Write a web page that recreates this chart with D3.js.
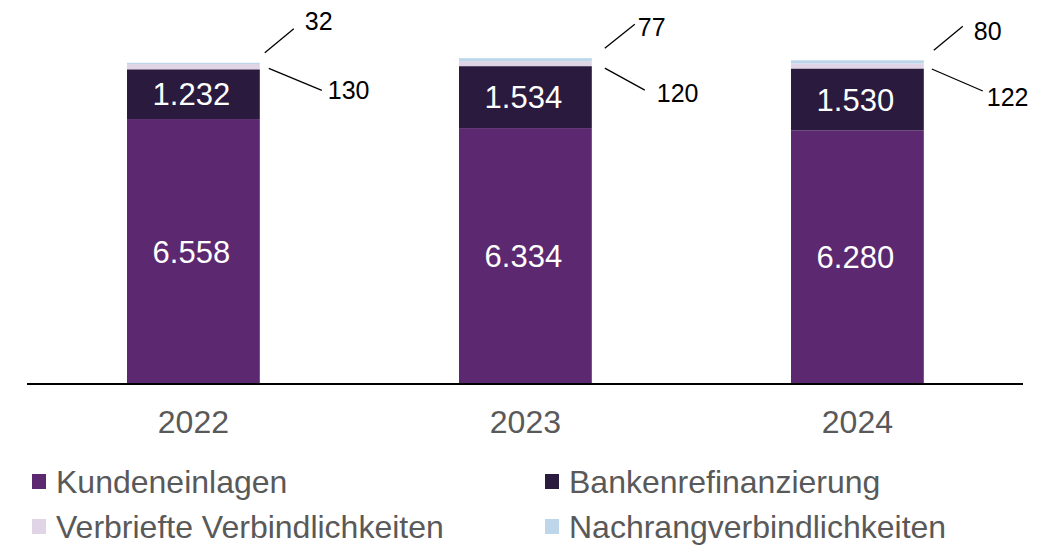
<!DOCTYPE html>
<html>
<head>
<meta charset="utf-8">
<script src="https://cdn.jsdelivr.net/npm/d3@7"></script>
<style>
  body { margin: 0; background: #fff; }
  svg { font-family: "Liberation Sans", Arial, sans-serif; }
</style>
</head>
<body>
<svg id="drawing_region"></svg>
<script>
const years = ["2022", "2023", "2024"];
const seriesNames = ["Kundeneinlagen", "Bankenrefinanzierung", "Verbriefte Verbindlichkeiten", "Nachrangverbindlichkeiten"];
const kundeneinlagen = [6558, 6334, 6280];
const bankenrefinanzierung = [1232, 1534, 1530];
const verbriefte = [130, 120, 122];
const nachrang = [32, 77, 80];
const colors = ["#5c2870", "#2a1a3e", "#e0d5e6", "#bdd6ea"];

// callout leader offsets from the bar's right edge (layout only)
// [x1, x2, textX, textDy, y1Dy, y2Dy]
const calloutLayout = [
    { n: [5, 34, 45, -33, -10, -34], v: [9, 62, 68, 30, -1, 21] },
    { n: [13, 43, 46, -22, -10, -34], v: [13, 53, 65, 36, 2, 24] },
    { n: [10, 39, 50, -20, -10, -34], v: [8, 59, 63, 37.5, 0.5, 22.5] }
];

const width = 1053, height = 549;
const svg = d3.select("#drawing_region").attr("width", width).attr("height", height);

const table = years.map((y, i) => ({
    year: y,
    Kundeneinlagen: kundeneinlagen[i],
    Bankenrefinanzierung: bankenrefinanzierung[i],
    "Verbriefte Verbindlichkeiten": verbriefte[i],
    Nachrangverbindlichkeiten: nachrang[i]
}));

const stack = d3.stack().keys(seriesNames)(table);

const xscale = d3.scaleBand().domain(years).range([27.4, 1023.4]).paddingInner(0.6).paddingOuter(0.3);
const yscale = d3.scaleLinear().domain([0, 9500]).range([384, 0.2]);

const color = d3.scaleOrdinal().domain(seriesNames).range(colors);

svg.append("g").selectAll("g")
    .data(stack)
    .join("g")
    .attr("fill", d => color(d.key))
    .selectAll("rect")
    .data(d => d)
    .join("rect")
    .attr("x", d => xscale(d.data.year))
    .attr("width", xscale.bandwidth())
    .attr("y", d => yscale(d[1]))
    .attr("height", d => yscale(d[0]) - yscale(d[1]));

// inside labels for the two big series
const fmt = v => d3.format(",")(v).replace(/,/g, ".");
[0, 1].forEach(s => {
    svg.append("g").selectAll("text")
        .data(stack[s])
        .join("text")
        .attr("x", d => xscale(d.data.year) + xscale.bandwidth() / 2 - 2)
        .attr("y", d => (yscale(d[0]) + yscale(d[1])) / 2)
        .attr("dy", "0.36em")
        .attr("text-anchor", "middle")
        .attr("fill", "#fff")
        .attr("font-size", 31)
        .text(d => fmt(d[1] - d[0]));
});

// outside callouts for the small series
const callouts = svg.append("g");
years.forEach((y, i) => {
    const right = xscale(y) + xscale.bandwidth();
    const L = calloutLayout[i];
    // Verbriefte: leader starts at top of Bankenrefinanzierung
    const yv = yscale(stack[1][i][1]);
    callouts.append("line")
        .attr("x1", right + L.v[0]).attr("y1", yv + L.v[4])
        .attr("x2", right + L.v[1]).attr("y2", yv + L.v[5])
        .attr("stroke", "#000").attr("stroke-width", 1.3);
    callouts.append("text")
        .attr("x", right + L.v[2]).attr("y", yv + L.v[3])
        .attr("font-size", 25).attr("fill", "#000")
        .text(fmt(verbriefte[i]));
    // Nachrang: leader starts above the bar top
    const yn = yscale(stack[3][i][1]);
    callouts.append("line")
        .attr("x1", right + L.n[0]).attr("y1", yn + L.n[4])
        .attr("x2", right + L.n[1]).attr("y2", yn + L.n[5])
        .attr("stroke", "#000").attr("stroke-width", 1.3);
    callouts.append("text")
        .attr("x", right + L.n[2]).attr("y", yn + L.n[3])
        .attr("font-size", 25).attr("fill", "#000")
        .text(fmt(nachrang[i]));
});

// axis
const xaxis = d3.axisBottom(xscale).tickSize(0).tickPadding(26);
const xaxis_group = svg.append("g")
    .attr("transform", `translate(0, 384)`)
    .call(xaxis);
xaxis_group.select(".domain").remove();
xaxis_group.append("line")
    .attr("x1", 27).attr("x2", 1023)
    .attr("stroke", "#000").attr("stroke-width", 2);
xaxis_group.selectAll(".tick text")
    .attr("font-size", 32)
    .attr("font-family", "Liberation Sans, Arial, sans-serif")
    .attr("fill", "#595959");

// legend
const legendPos = [[32, 493], [545, 493], [32, 538], [545, 538]];
const legend = svg.append("g").selectAll("g")
    .data(seriesNames)
    .join("g")
    .attr("transform", (d, i) => `translate(${legendPos[i][0]}, ${legendPos[i][1]})`);
legend.append("rect")
    .attr("x", 0).attr("y", -19)
    .attr("width", 14).attr("height", 15)
    .attr("fill", d => color(d));
legend.append("text")
    .attr("x", 24).attr("y", 0)
    .attr("font-size", 32)
    .attr("fill", "#595959")
    .text(d => d);
</script>
</body>
</html>
